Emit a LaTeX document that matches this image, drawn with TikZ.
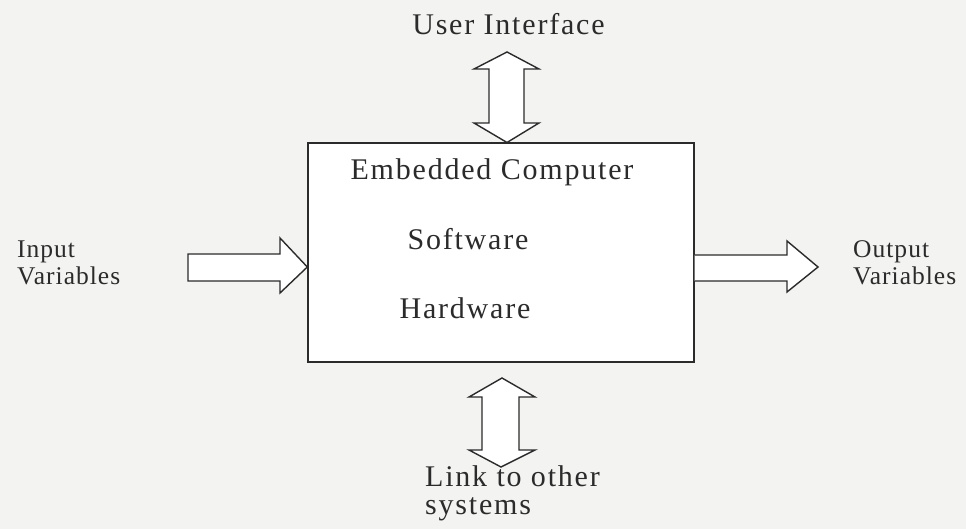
\documentclass[tikz,border=0pt]{standalone}
\usepackage{fontspec}
\setmainfont{Liberation Serif}[LetterSpace=6]
\newfontfamily\sidefont{Liberation Serif}[LetterSpace=4]
\definecolor{ink}{HTML}{2B2B2B}
\definecolor{paper}{HTML}{F3F3F1}
\tikzset{
  blockarrow/.style={draw=ink, line width=1.4pt, line join=miter, fill=white},
  bigtext/.style={text=ink, inner sep=0pt, font=\fontsize{30}{34}\selectfont},
  sidetext/.style={text=ink, inner sep=0pt, align=left, font=\sidefont\fontsize{25.5}{27}\selectfont},
}
\begin{document}
\begin{tikzpicture}[x=1pt,y=-1pt]
\fill[paper] (0,0) rectangle (966,529);
\useasboundingbox (0,0) rectangle (966,529);
% main box
\node[draw=ink, line width=1.4pt, fill=white, minimum width=386pt, minimum height=219pt, inner sep=0pt] (box) at (501,252.5) {};
% texts inside box
\node[bigtext, anchor=base] (ec) at (492,180) {Embedded Computer};
\node[bigtext, anchor=base] (sw) at (468,250) {Software};
\node[bigtext, anchor=base] (hw) at (465,318) {Hardware};
% top label
\node[bigtext, anchor=base] (ui) at (508.5,35) {User Interface};
% bottom label
\node[bigtext, anchor=north west, align=left, font=\fontsize{30}{28}\selectfont] (link) at (425,465) {Link to other\\systems};
% side labels
\node[sidetext, anchor=north west] (inp) at (17,241) {Input\\Variables};
\node[sidetext, anchor=north west] (outp) at (853,240) {Output\\Variables};
% top double arrow
\draw[blockarrow] (507,52) -- (539,69) -- (524,69) -- (524,123) -- (539,123) -- (507,142.5)
  -- (474,123) -- (489,123) -- (489,69) -- (474,69) -- cycle;
% bottom double arrow
\draw[blockarrow] (502,378) -- (535,397) -- (519,397) -- (519,450) -- (535,450) -- (501,467)
  -- (469,450) -- (482,450) -- (482,397) -- (469,397) -- cycle;
% input arrow
\draw[blockarrow] (188,254) -- (280,254) -- (280,238) -- (box.west |- 0,267) -- (280,293) -- (280,281) -- (188,281) -- cycle;
% output arrow
\draw[blockarrow] (box.east |- 0,255) -- (787,255) -- (787,241) -- (818,267) -- (787,292) -- (787,281) -- (box.east |- 0,281);
\end{tikzpicture}
\end{document}
